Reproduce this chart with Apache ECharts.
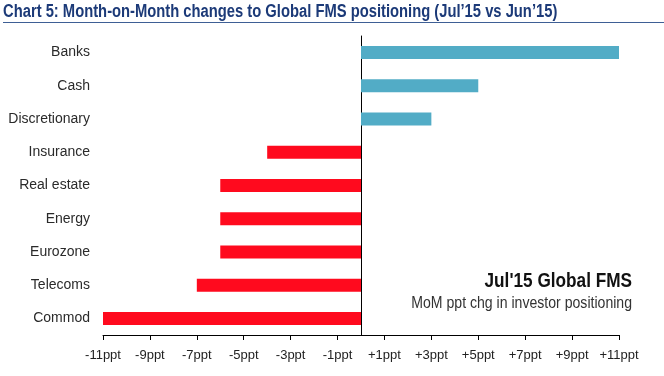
<!DOCTYPE html>
<html><head><meta charset="utf-8">
<script src="https://cdn.jsdelivr.net/npm/echarts@6/dist/echarts.min.js"></script>
<style>html,body{margin:0;padding:0;background:#fff}#c{width:664px;height:376px}</style>
</head><body><div id="c"></div>
<script>
const categories = ['Banks','Cash','Discretionary','Insurance','Real estate','Energy','Eurozone','Telecoms','Commod'];
const values = [11, 5, 3, -4, -6, -6, -6, -7, -11];
const tickValues = [-11,-9,-7,-5,-3,-1,1,3,5,7,9,11];
const titleText = "Chart 5: Month-on-Month changes to Global FMS positioning (Jul\u201915 vs Jun\u201915)";
const FONT = "'Liberation Sans',Arial,sans-serif";
const chart = echarts.init(document.getElementById('c'), null, {renderer:'canvas'});
chart.setOption({
  animation:false,
  graphic:[
    {type:'text',x:3,y:3,scaleX:0.82,originX:0,style:{text:titleText,font:"bold 18px "+FONT,fill:'#1c3a78',textVerticalAlign:'top'}},
    {type:'line',shape:{x1:3,y1:22.5,x2:664,y2:22.5},style:{stroke:'#3e5f95',lineWidth:1.2}},
    {type:'text',x:632,y:281,scaleX:0.86,originX:0,style:{text:"Jul'15 Global FMS",font:"bold 20px "+FONT,fill:'#111',textAlign:'right',textVerticalAlign:'middle'}},
    {type:'text',x:632,y:304,scaleX:0.88,originX:0,style:{text:"MoM ppt chg in investor positioning",font:"16px "+FONT,fill:'#333',textAlign:'right',textVerticalAlign:'middle'}}
  ],
  grid:{left:103,right:45,top:36,bottom:41,containLabel:false},
  xAxis:{type:'value',min:-11,max:11,position:'bottom',
    axisLine:{show:true,onZero:false,lineStyle:{color:'#000',width:1}},
    axisTick:{show:true,length:5,customValues:tickValues,lineStyle:{color:'#000'}},
    axisLabel:{customValues:tickValues,color:'#222',fontSize:13,fontFamily:FONT,margin:14,
      formatter:v=>(v>0?'+':'')+v+'ppt'},
    splitLine:{show:false}},
  yAxis:{type:'category',data:categories,inverse:true,
    axisLine:{show:true,onZero:true,lineStyle:{color:'#000',width:1}},
    axisTick:{show:false},
    axisLabel:{color:'#2a2a2a',fontSize:14,fontFamily:FONT,margin:13},
    splitLine:{show:false}},
  series:[{type:'bar',data:values.map(v=>({value:v,itemStyle:{color:v>=0?'#52acc6':'#ff0a1e'}})),barWidth:13}]
});
</script></body></html>
